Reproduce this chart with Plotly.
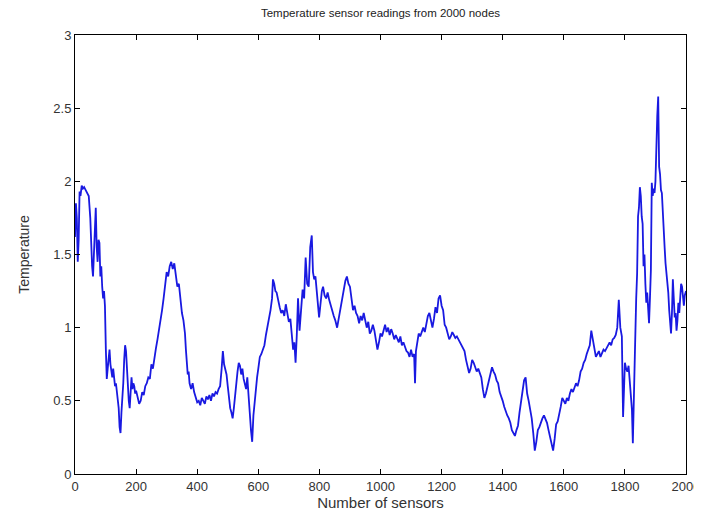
import plotly.graph_objects as go

title_text = "Temperature sensor readings from 2000 nodes"
x_label = "Number of sensors"
y_label = "Temperature"

x_ticks = [0, 200, 400, 600, 800, 1000, 1200, 1400, 1600, 1800, 2000]
y_ticks = [0, 0.5, 1, 1.5, 2, 2.5, 3]

sensor_x = [
    0, 3, 6, 9, 12, 15, 18, 22, 26, 30, 35, 40, 45, 50, 53, 56, 59, 62, 65, 68, 71, 74, 77, 80, 83, 86, 89, 92, 95, 98,
    101, 104, 107, 110, 113, 116, 119, 122, 125, 128, 131, 134, 137, 140, 143, 146, 149, 152, 155, 158, 161, 164, 167, 170, 173, 176, 179, 182, 185, 188, 191, 194, 197, 200,
    205, 210, 215, 220, 225, 230, 235, 240, 245, 250, 255, 260, 265, 270, 275, 280, 285, 290, 295, 300, 305, 310, 315, 320,
    325, 330, 335, 340, 345, 350, 355, 360, 363, 366, 369, 372, 375, 380, 385, 390, 395, 400,
    405, 410, 415, 420, 425, 430, 435, 440, 445, 450, 455, 460, 465, 470, 475, 480,
    484, 488, 492, 496, 500, 504, 508, 512, 516, 520, 524, 528, 532, 536, 540, 544, 548, 552, 556, 560, 564, 568, 572, 576, 580, 584, 588, 592, 596, 600,
    605, 610, 615, 620, 625, 630, 635, 640, 645, 648, 652, 656, 660, 665, 670, 675, 680, 685, 690, 695, 700, 705, 710, 714, 718, 722, 726, 730,
    735, 740, 745, 750, 755, 760, 765, 770, 775, 779, 783, 787, 791, 795, 799, 803, 808, 812, 817, 822, 827, 832, 837, 842, 847, 852, 858, 863, 868, 874, 880, 885, 890, 895, 900, 905, 910, 915, 920, 925, 930, 935, 940, 945, 950, 955, 960, 965, 970, 975, 980, 985, 990, 995, 1000,
    1005, 1010, 1015, 1020, 1025, 1030, 1035, 1040, 1045, 1050, 1055, 1060, 1065, 1070, 1075, 1080, 1085, 1090, 1095, 1100, 1105, 1110, 1113, 1116, 1120, 1125, 1130, 1135, 1140, 1145, 1150, 1155, 1160, 1165, 1170, 1175, 1180, 1185, 1190, 1195, 1200,
    1205, 1210, 1215, 1220, 1225, 1230, 1235, 1240, 1245, 1250, 1255, 1260, 1265, 1270, 1275, 1280, 1285, 1290, 1295, 1300, 1305, 1310, 1315, 1320, 1325, 1330, 1335, 1340, 1345, 1350, 1355, 1360, 1365, 1370, 1375, 1380, 1385, 1390, 1395, 1400, 1405, 1410, 1415, 1420, 1425, 1430, 1435, 1440, 1445, 1450,
    1455, 1460, 1465, 1470, 1475, 1480, 1485, 1490, 1495, 1500, 1505, 1510, 1515, 1520, 1525, 1530, 1535, 1540, 1545, 1550, 1555, 1560, 1565, 1570, 1575, 1580, 1585, 1590, 1595, 1600, 1605, 1610, 1615, 1620, 1625, 1630, 1635, 1640, 1645, 1650, 1655, 1660, 1665, 1670, 1675, 1680, 1685, 1690, 1695, 1700, 1705, 1710, 1715, 1720, 1725, 1730, 1735, 1740, 1745, 1750, 1755, 1760, 1765, 1770, 1775, 1780, 1785, 1790,
    1794, 1797, 1800, 1804, 1808, 1812, 1816, 1820, 1823, 1826, 1829, 1833, 1837, 1840, 1843, 1846, 1849, 1852, 1855, 1858, 1861, 1864, 1867, 1870, 1873, 1876, 1879, 1882, 1885, 1888, 1891, 1894, 1897, 1900, 1903, 1906, 1909, 1912, 1915, 1918, 1921, 1924, 1927, 1930, 1933, 1936, 1939, 1942, 1945, 1948, 1951, 1954, 1957, 1960, 1963, 1966, 1969, 1972, 1975, 1978, 1981, 1984, 1987, 1990, 1993, 1996, 2000,
]

temperature = [
    1.62, 1.85, 1.75, 1.45, 1.6, 1.93, 1.9, 1.97, 1.95, 1.96, 1.94, 1.92, 1.9, 1.75, 1.55, 1.42, 1.35, 1.5, 1.65, 1.82, 1.55, 1.45, 1.6, 1.58, 1.35, 1.42, 1.28, 1.2, 1.25, 1.15,
    0.85, 0.65, 0.72, 0.8, 0.85, 0.75, 0.7, 0.66, 0.72, 0.65, 0.6, 0.62, 0.55, 0.52, 0.45, 0.32, 0.28, 0.42, 0.5, 0.62, 0.78, 0.88, 0.84, 0.7, 0.55, 0.5, 0.45, 0.62, 0.66, 0.58, 0.62, 0.6, 0.55, 0.57,
    0.52, 0.48, 0.5, 0.56, 0.54, 0.6, 0.62, 0.66, 0.65, 0.75, 0.72, 0.8, 0.86, 0.92, 0.98, 1.05, 1.12, 1.2, 1.28, 1.38, 1.35, 1.42, 1.45, 1.4,
    1.44, 1.35, 1.28, 1.3, 1.2, 1.1, 1.05, 0.96, 0.85, 0.75, 0.68, 0.7, 0.62, 0.58, 0.62, 0.56, 0.52, 0.49,
    0.5, 0.47, 0.52, 0.5, 0.48, 0.53, 0.51, 0.54, 0.5, 0.55, 0.53, 0.56, 0.55, 0.58, 0.6, 0.72,
    0.84, 0.75, 0.72, 0.68, 0.6, 0.52, 0.45, 0.42, 0.38, 0.45, 0.55, 0.62, 0.7, 0.76, 0.74, 0.68, 0.72, 0.65, 0.62, 0.58, 0.66, 0.5, 0.42, 0.3, 0.22, 0.4, 0.5, 0.6, 0.66, 0.72,
    0.8, 0.82, 0.86, 0.88, 0.95, 1.0, 1.05, 1.12, 1.2, 1.33, 1.3, 1.25, 1.24, 1.18, 1.14, 1.1, 1.12, 1.08, 1.16, 1.1, 1.04, 1.06, 0.95, 0.85, 0.9, 0.76, 0.95, 1.2,
    0.98, 1.1, 1.26, 1.2, 1.48, 1.3, 1.28, 1.55, 1.63, 1.38, 1.33, 1.35, 1.25, 1.15, 1.07, 1.15, 1.25, 1.28, 1.22, 1.2, 1.24, 1.19, 1.15, 1.12, 1.08, 1.05, 1.0, 1.06, 1.12, 1.19, 1.28, 1.32, 1.35, 1.3, 1.28, 1.2, 1.12, 1.15, 1.1, 1.08, 1.03, 1.08, 1.05, 1.1, 1.06, 1.0, 1.04, 0.96, 0.98, 1.02, 0.98, 0.92, 0.85, 0.9, 0.96,
    0.94, 0.98, 1.02, 0.97, 1.0, 0.95, 0.99, 0.96, 0.92, 0.95, 0.93, 0.9, 0.94, 0.88, 0.9, 0.86, 0.84, 0.83, 0.8, 0.85, 0.8, 0.82, 0.62, 0.84, 0.9, 0.96, 0.94, 0.98, 1.0, 0.97, 1.02, 1.08, 1.1, 1.04, 1.0, 1.06, 1.14, 1.1, 1.2, 1.22, 1.15,
    1.12, 1.02, 1.0, 0.96, 0.92, 0.94, 0.97, 0.95, 0.93, 0.94, 0.92, 0.9, 0.88, 0.86, 0.84, 0.78, 0.74, 0.69, 0.72, 0.78, 0.76, 0.72, 0.7, 0.72, 0.69, 0.66, 0.58, 0.52, 0.55, 0.6, 0.64, 0.7, 0.73, 0.7, 0.68, 0.64, 0.62, 0.56, 0.52, 0.5, 0.46, 0.42, 0.4, 0.38, 0.35, 0.3, 0.28, 0.26, 0.3, 0.33,
    0.42, 0.5, 0.58, 0.64, 0.66, 0.55, 0.5, 0.44, 0.38, 0.28, 0.16, 0.22, 0.3, 0.32, 0.36, 0.38, 0.4, 0.38, 0.35, 0.3, 0.26, 0.2, 0.16, 0.24, 0.34, 0.36, 0.4, 0.46, 0.52, 0.5, 0.48, 0.52, 0.5, 0.55, 0.58, 0.56, 0.6, 0.62, 0.6, 0.64, 0.7, 0.72, 0.76, 0.78, 0.82, 0.86, 0.88, 0.98, 0.92, 0.86, 0.8, 0.82, 0.84, 0.8, 0.83, 0.85, 0.84, 0.86, 0.88, 0.9, 0.88, 0.92, 0.93, 0.95, 1.0, 1.19, 1.0, 0.94,
    0.39, 0.6, 0.76, 0.72, 0.7, 0.74, 0.62, 0.5, 0.44, 0.21, 0.6, 0.85, 1.2, 1.37, 1.76, 1.82, 1.96, 1.9, 1.76, 1.71, 1.42, 1.5, 1.3, 1.17, 1.24, 1.07, 1.03, 1.2, 1.39, 1.99, 1.9, 1.95, 1.92, 2.0, 2.33, 2.45, 2.58, 2.1, 2.05, 1.94, 1.92, 1.76, 1.65, 1.55, 1.44, 1.38, 1.3, 1.24, 1.12, 1.05, 0.96, 1.1, 1.33, 1.2, 1.07, 1.1, 0.98, 1.05, 1.17, 1.1, 1.2, 1.3, 1.28, 1.21, 1.15, 1.22, 1.25,
]

FONT = "Liberation Sans, Arial, sans-serif"
FIG_W, FIG_H = 694, 505

fig = go.Figure()
fig.add_trace(go.Scatter(
    x=sensor_x, y=temperature, mode="lines",
    line=dict(color="rgb(25,25,225)", width=1.8),
    showlegend=False,
))

axis_common = dict(
    showgrid=False, zeroline=False, showline=True, linecolor="black", linewidth=1,
    mirror="allticks", ticks="inside", ticklen=5, tickcolor="black", automargin=False,
    ticklabeloverflow="allow",
    tickfont=dict(family=FONT, size=13, color="#333"),
)

fig.update_layout(
    width=FIG_W, height=FIG_H,
    margin=dict(l=67, r=16, t=27, b=39),
    paper_bgcolor="white", plot_bgcolor="white",
    title=dict(text=title_text, x=(67 + 678) / 2 / FIG_W, xanchor="center",
               y=1 - 1 / FIG_H, yanchor="top", pad=dict(t=0),
               font=dict(family=FONT, size=11.5, color="#222")),
    xaxis=dict(range=[0, 2000], tickvals=x_ticks, ticktext=[str(v) for v in x_ticks],
               title=dict(text=x_label, standoff=4, font=dict(family=FONT, size=15, color="#333")),
               **axis_common),
    yaxis=dict(range=[0, 3], tickvals=y_ticks, ticktext=[str(v) for v in y_ticks],
               title=dict(text=y_label, standoff=20, font=dict(family=FONT, size=14, color="#333")),
               **axis_common),
)

fig.write_html(
    "out.html",
    post_script="document.documentElement.style.overflow='hidden';document.body.style.overflow='hidden';",
)
